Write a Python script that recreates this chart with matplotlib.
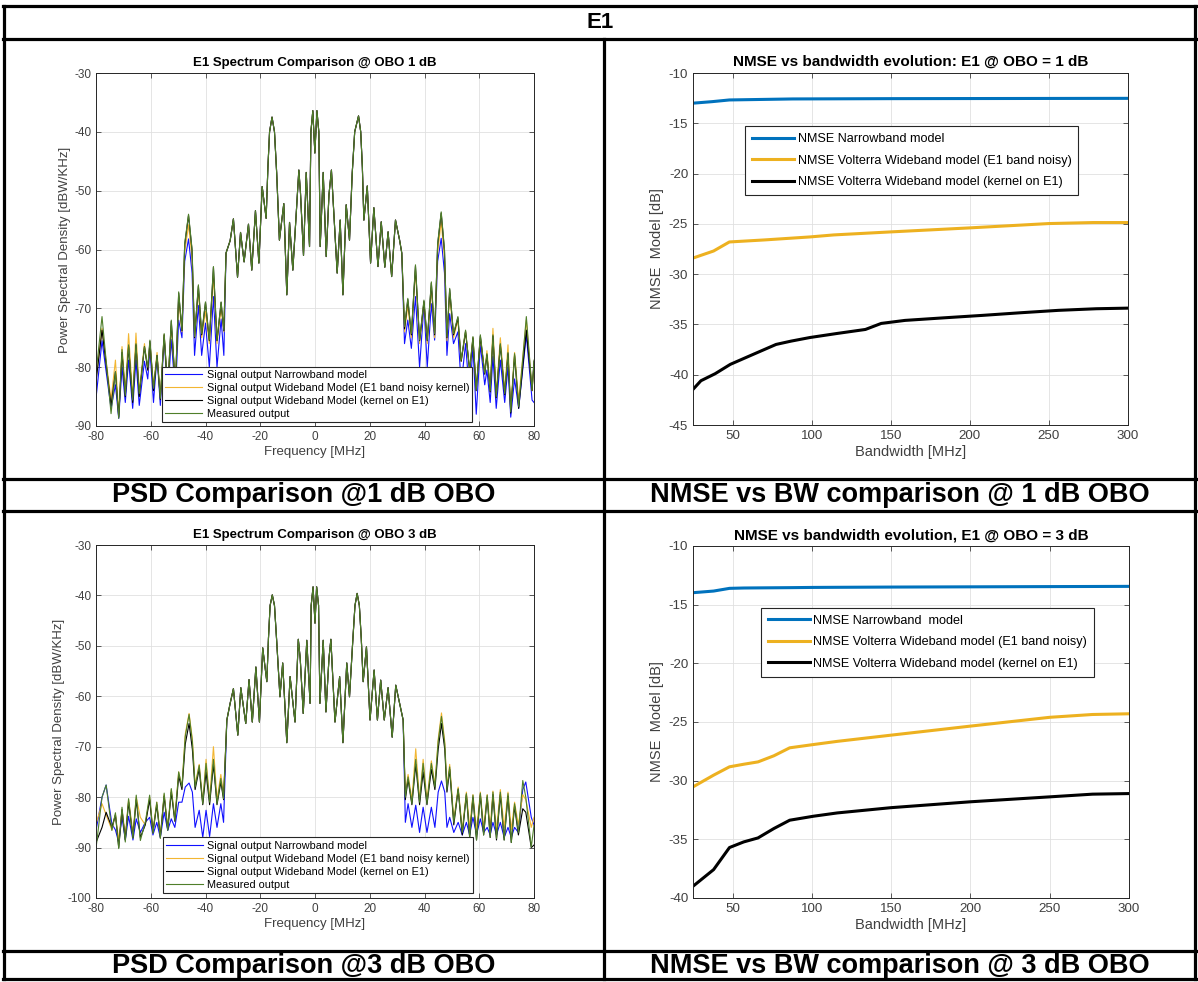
import matplotlib
matplotlib.use('Agg')
import matplotlib.pyplot as plt
from matplotlib.lines import Line2D

plt.rcParams['font.family'] = ['Liberation Sans', 'DejaVu Sans']
plt.rcParams['axes.unicode_minus'] = False

W, H = 1198, 982

# ---------------- NMSE vs bandwidth data ----------------
bw1_nb = [25, 37, 48, 88, 150, 200, 300]
nmse1_nb = [-13.0, -12.85, -12.68, -12.58, -12.55, -12.54, -12.52]
bw1_noisy = [25, 38, 48, 70, 99, 114, 150, 200, 250, 278, 300]
nmse1_noisy = [-28.4, -27.7, -26.8, -26.6, -26.3, -26.1, -25.8, -25.4, -24.97, -24.87, -24.87]
bw1_kernel = [25, 30, 39, 48.6, 63, 77.5, 87, 99, 116, 134, 144, 159, 184, 208, 232, 256, 280, 300]
nmse1_kernel = [-41.46, -40.6, -39.9, -38.97, -37.98, -36.99, -36.66, -36.3, -35.9, -35.5,
                -34.9, -34.6, -34.34, -34.1, -33.84, -33.6, -33.44, -33.38]

bw2 = [25, 38, 48, 57, 66, 76, 86, 101, 116, 150, 200, 250, 277, 300]
nmse2_nb = [-13.98, -13.84, -13.61, -13.58, -13.57, -13.56, -13.55, -13.53, -13.52, -13.5,
            -13.48, -13.46, -13.45, -13.44]
nmse2_noisy = [-30.53, -29.53, -28.82, -28.6, -28.4, -27.88, -27.2, -26.92, -26.65, -26.12,
               -25.35, -24.6, -24.36, -24.3]
nmse2_kernel = [-39.0, -37.58, -35.7, -35.22, -34.88, -34.08, -33.37, -33.03, -32.75, -32.3,
                -31.8, -31.38, -31.15, -31.1]

# ---------------- PSD @ OBO 1 dB ----------------
psd1_f_center = [-32.5, -31.0, -29.8, -28.3, -27.2, -25.9, -24.3, -23.1, -21.75, -20.5, -19.3,
                 -17.85, -17.2, -16.6, -15.7, -14.8, -14.0, -13.0, -11.4, -10.3, -9.3, -8.1,
                 -5.9, -5.3, -4.2, -3.2, -2.0, -1.5, -0.8, -0.05, 0.7, 1.4, 1.9, 3.0, 4.1, 5.1,
                 6.0, 8.1, 9.2, 10.2, 11.4, 12.6, 13.6, 14.5, 15.9, 16.7, 17.3, 17.85, 19.1,
                 20.3, 21.5, 23.0, 24.2, 25.5, 26.7, 28.0, 29.4, 30.9, 31.7]
psd1_center = [-60.6, -58.5, -54.8, -64.7, -57.1, -62.1, -55.7, -63.5, -53.4, -62.3, -49.3,
               -54.7, -46, -40, -37.5, -40, -47, -58.4, -52.2, -67.7, -55.4, -63.5,
               -46.5, -50.4, -61, -46.9, -59.5, -40, -36.4, -43.6, -36.4, -40, -59.5, -46.9,
               -61.2, -50.7, -46.5, -64, -55, -67.7, -52.4, -58.4, -47, -40, -37.3, -40, -46,
               -55, -49.2, -62.3, -52.9, -62.9, -55.3, -63, -57, -64.6, -55, -58.4, -60.6]

psd1_f_left = [-80, -77.8, -74.5, -72.9, -71.7, -70.5, -69.3, -68.1, -66.6, -65.4, -64.2, -62.3,
               -61.1, -60.3, -59.0, -57.7, -56.5, -55.1, -53.8, -52.5, -51.0, -49.8, -48.6,
               -47.6, -46.2, -44.9, -44.0, -42.6, -41.4, -40.0, -38.6, -37.1, -35.8, -34.3, -33.3]
psd1_meas_left = [-81, -71.4, -87.9, -80.8, -88.7, -77, -84.8, -76.2, -85.6, -76, -84.5, -76.5,
                  -80, -75.4, -83.6, -78, -85.3, -74.3, -83.9, -72, -83.3, -67.2, -73.7,
                  -59, -54, -60, -74.8, -66, -74.3, -68.9, -75.4, -62.9, -75.4, -68.9, -73.7]
psd1_noisy_left = [-82, -73.4, -85.5, -78.8, -88, -76.5, -84, -74.3, -85, -74.2, -84, -76,
                   -80.5, -76, -83, -77.5, -85, -74.5, -83.5, -73, -83, -68.5, -74,
                   -60.5, -55.8, -61.5, -75, -67, -75, -70.5, -76, -64.5, -76, -70, -74]
psd1_kernel_left = [-82.5, -73.7, -86.5, -80.8, -88.5, -77.5, -85, -76.5, -86, -76.2, -85, -76.5,
                    -80.5, -75.6, -84, -78, -85.5, -74.5, -84, -72.2, -83.5, -67.4, -73.8,
                    -59.2, -54.2, -60.2, -75, -66.2, -74.5, -69, -75.5, -63, -75.5, -69, -73.8]
psd1_nb_left = [-85.3, -75.5, -87, -83, -88.7, -80, -86, -78.8, -87, -78.8, -86.5, -79,
                -82, -77, -86, -78, -86.5, -75, -85, -75.3, -84.5, -72, -75,
                -62, -58.2, -64, -78, -69.5, -78, -72.5, -80, -68, -80, -71.8, -78]

psd1_f_right = [32.7, 33.9, 35.2, 36.7, 38.2, 39.8, 41.0, 42.5, 43.7, 44.8, 46.1, 47.3, 48.2,
                49.2, 50.6, 52.2, 53.4, 55.0, 56.5, 57.7, 58.9, 60.4, 62.0, 62.8, 64.0, 65.0,
                66.2, 67.7, 69.3, 70.5, 71.5, 72.9, 74.4, 77.2, 79.3, 80]
psd1_meas_right = [-73.1, -68.3, -74.3, -62.6, -75.4, -68.6, -75.4, -65.5, -74.3, -59, -53.6,
                   -60, -74.8, -66.6, -74.3, -71.4, -78.8, -73.7, -80.5, -74.8, -83.9, -74.5,
                   -81, -77.7, -84, -74.5, -85, -76, -84.5, -77.5, -87.6, -77.7, -86.7, -71.4,
                   -83.9, -78.8]
psd1_noisy_right = [-74, -69.6, -75, -63.5, -76, -69, -76, -66.5, -75, -60.5, -55.3,
                    -61.5, -75.5, -67.5, -75, -72, -79, -74, -80.5, -75, -83.5, -75,
                    -81, -77.2, -83.5, -73.4, -84.5, -75, -84, -76.2, -87, -77.5, -85.6, -72,
                    -84, -79.5]
psd1_kernel_right = [-73.5, -68.5, -74.5, -62.8, -75.5, -68.8, -75.5, -65.7, -74.5, -59.2, -53.8,
                     -60.2, -75, -66.8, -74.5, -71.6, -79, -73.9, -80.7, -75, -84, -74.7,
                     -81.2, -77.9, -84.2, -74.7, -85.2, -76.2, -84.7, -77.7, -87.8, -78, -87,
                     -73.7, -84, -79]
psd1_nb_right = [-76, -72, -76.8, -68, -80, -69.4, -80, -69.2, -75.4, -62, -58.1,
                 -64, -78, -70.9, -76, -74, -83, -76, -85, -76.5, -88, -76.2,
                 -83, -80.5, -86, -78.2, -87, -78.8, -86, -80, -88.5, -82, -87, -74.5,
                 -85.6, -86]

# ---------------- PSD @ OBO 3 dB ----------------
psd2_f_center = [-32.2, -31.0, -29.8, -28.2, -27.1, -25.3, -24.1, -22.9, -21.6, -20.3, -19.1,
                 -17.6, -17.0, -16.4, -15.6, -14.8, -14.0, -12.8, -11.8, -10.3, -9.1, -7.3,
                 -6.1, -5.4, -4.3, -3.0, -1.8, -1.4, -0.7, 0.0, 0.6, 1.3, 1.8, 3.0, 4.0, 5.1,
                 5.8, 7.3, 9.0, 10.2, 11.6, 12.6, 13.8, 14.6, 15.4, 16.2, 16.9, 17.6, 18.8,
                 20.1, 21.6, 22.8, 24.0, 25.3, 26.7, 28.2, 29.5, 30.9, 32.2]
psd2_center = [-64.7, -61.4, -58.5, -67.7, -58.3, -65.4, -56.7, -65.1, -54.2, -65.1, -50.4,
               -57.1, -48.5, -42, -39.9, -42, -49, -60.1, -53.4, -69.2, -56.1, -65.1,
               -48.7, -52.5, -63.4, -48.9, -61.4, -42, -38.3, -45.5, -38.3, -42, -61.4, -48.9,
               -63.1, -52.5, -48.7, -65.1, -56.1, -69.2, -53.4, -60.1, -49, -42, -39.6, -42,
               -48.5, -57.1, -50.2, -64.7, -54.8, -64.7, -56.8, -64.7, -58.3, -68.1, -57.8,
               -61.4, -64.7]

psd2_f_left = [-80, -77.8, -76.3, -74.2, -72.9, -71.7, -70.5, -69.3, -68.1, -66.5, -65.3, -63.8,
               -62.0, -60.4, -59.2, -57.8, -56.5, -55.1, -53.8, -52.5, -51.2, -49.8, -48.6,
               -47.4, -46.0, -44.8, -43.8, -42.3, -41.0, -39.8, -38.5, -37.1, -35.8, -34.4, -33.4]
psd2_meas_left = [-90.2, -80, -77.6, -86.6, -83.1, -90.2, -82, -88.9, -80.3, -88.2, -79.6, -88.6,
                  -85, -79.6, -87.2, -81, -88.2, -79.2, -86.6, -78.3, -84.6, -75, -78,
                  -68, -63.6, -69, -78, -73.7, -81.3, -73.3, -81, -72.5, -81.3, -76.3, -80.3]
psd2_noisy_left = [-85.3, -81.3, -83.5, -86.5, -83.5, -88.5, -82.5, -87.5, -80.5, -87, -80, -84,
                   -85.5, -80, -86.5, -81, -87.5, -79.5, -86, -78.5, -84, -75, -78,
                   -67.5, -63.4, -68.5, -77.5, -73.5, -81, -72.5, -80.5, -70, -80.5, -75.5, -79.5]
psd2_kernel_left = [-89, -86, -83, -86, -83.5, -90, -82.5, -88.5, -81, -88, -80.5, -88,
                    -85.5, -80.5, -87, -81.5, -88, -79.8, -86.5, -79, -84.8, -75.8, -78.5,
                    -69.5, -65.4, -70.5, -78.5, -74.4, -81.5, -75, -81.5, -73.5, -81.5, -77, -80.5]
psd2_nb_left = [-86.6, -80, -77.6, -85.3, -86.5, -89, -84, -88.5, -83.8, -88.5, -84.3, -87,
                -85, -84, -87.5, -85, -88, -83, -86.6, -84.3, -86, -81, -81,
                -78, -77.2, -79, -86, -82.6, -88, -82.6, -87.8, -81.3, -86, -81.3, -85]

psd2_f_right = [33.0, 34.0, 35.4, 36.8, 38.2, 39.5, 40.9, 42.5, 43.8, 45.0, 46.2, 47.4, 48.2,
                49.2, 50.7, 52.3, 53.8, 55.3, 56.5, 57.7, 59.0, 60.4, 61.6, 62.9, 64.0, 65.0,
                66.3, 67.7, 69.1, 70.5, 71.7, 72.9, 74.3, 75.9, 77.0, 79.0, 80]
psd2_meas_right = [-80, -76, -81.3, -72.5, -81, -73.3, -81.3, -73.3, -78, -69, -64, -69.5, -78.5,
                   -74, -85, -78.3, -87, -79.3, -88, -79.6, -88.5, -79.2, -87.5, -79.6, -88, -79,
                   -88.2, -79, -88.5, -79.3, -89, -81.3, -87, -76.7, -80, -89.9, -85.6]
psd2_noisy_right = [-79.5, -75.5, -80.5, -70.4, -80.5, -72.5, -80.5, -72.8, -77.5, -68.5, -63.3,
                    -69, -78, -73.5, -84.5, -78, -86.5, -79, -86, -79.5, -86.5, -79, -86, -79.5,
                    -86, -78.8, -86.5, -78.5, -86, -79, -86.5, -81, -85.5, -79.5, -80.5, -86, -84]
psd2_kernel_right = [-80.5, -76.5, -81.5, -73.5, -81.5, -75, -81.5, -74.5, -78.5, -70.5, -65.4,
                     -70.5, -79, -74.5, -85.5, -78.5, -87.5, -79.5, -88, -80, -88.5, -79.5, -87.5,
                     -80, -88, -79.5, -88.5, -79.5, -88.5, -79.8, -89, -81.8, -87.5, -82.3, -83,
                     -90, -89.5]
psd2_nb_right = [-85, -81.3, -86, -81.6, -87, -82, -87, -82, -86, -79, -76.8, -79, -86, -84,
                 -87, -85, -87.5, -85, -87.5, -84, -87.5, -84.3, -87, -86, -87.5, -85, -87.5,
                 -85, -88, -86, -88, -86, -87, -78.5, -77, -84, -85.5]

psd_labels = ['Signal output Narrowband model',
              'Signal output Wideband Model (E1 band noisy kernel)',
              'Signal output Wideband Model (kernel on E1)',
              'Measured output']
psd_colors = ['#1010ff', '#f2b632', '#000000', '#4f7f2a']

nmse_colors = ['#0072BD', '#EDB120', '#000000']
nmse1_labels = ['NMSE Narrowband model',
                'NMSE Volterra Wideband model (E1 band noisy)',
                'NMSE Volterra Wideband model (kernel on E1)']
nmse2_labels = ['NMSE Narrowband  model',
                'NMSE Volterra Wideband model (E1 band noisy)',
                'NMSE Volterra Wideband model (kernel on E1)']

fig = plt.figure(figsize=(W / 100, H / 100), dpi=100)


def px_axes(l, t, r, b):
    return fig.add_axes([l / W, 1 - b / H, (r - l) / W, (b - t) / H])


def style(ax, tick_fs):
    ax.tick_params(direction='in', top=True, right=True, labelsize=tick_fs,
                   colors='#404040', length=3.5, width=0.6)
    for s in ax.spines.values():
        s.set_color('#262626')
        s.set_linewidth(0.7)
    ax.grid(True, color='#e0e0e0', linewidth=0.6)
    ax.set_axisbelow(True)


def psd_panel(ax, f_l, f_c, f_r, center, sides, title, ylim, leg_xy):
    freq = f_l + f_c + f_r
    for (left, right), col, lab in zip(sides, psd_colors, psd_labels):
        ax.plot(freq, left + center + right, color=col, lw=0.8, label=lab)
    ax.set_xlim(-80, 80)
    ax.set_ylim(*ylim)
    ax.set_xticks(range(-80, 81, 20))
    ax.set_yticks(range(ylim[0], ylim[1] + 1, 10))
    style(ax, 8.5)
    ax.set_title(title, fontsize=9.5, fontweight='bold', pad=5)
    ax.set_xlabel('Frequency [MHz]', fontsize=9.5, color='#404040', labelpad=2)
    ax.set_ylabel('Power Spectral Density [dBW/KHz]', fontsize=9.5, color='#404040', labelpad=2)
    leg = ax.legend(loc='lower left', bbox_to_anchor=leg_xy, fontsize=7.8, handlelength=3.4,
                    labelspacing=0.28, borderpad=0.3, handletextpad=0.4, borderaxespad=0,
                    fancybox=False, framealpha=1, edgecolor='#262626')
    leg.get_frame().set_linewidth(0.8)


def nmse_panel(ax, series, labels, title, ylim, leg_xy):
    for (x, y), col, lab in zip(series, nmse_colors, labels):
        ax.plot(x, y, color=col, lw=2.2, label=lab)
    ax.set_xlim(25, 300)
    ax.set_ylim(*ylim)
    ax.set_xticks(range(50, 301, 50))
    ax.set_yticks(range(ylim[0], ylim[1] + 1, 5))
    style(ax, 9.6)
    ax.set_title(title, fontsize=11, fontweight='bold', pad=5)
    ax.set_xlabel('Bandwidth [MHz]', fontsize=10.5, color='#404040', labelpad=2)
    ax.set_ylabel('NMSE  Model [dB]', fontsize=10.5, color='#404040', labelpad=3)
    leg = ax.legend(loc='upper left', bbox_to_anchor=leg_xy, fontsize=9.1, handlelength=3.3,
                    labelspacing=0.75, borderpad=0.55, handletextpad=0.3, borderaxespad=0,
                    fancybox=False, framealpha=1, edgecolor='#262626')
    leg.get_frame().set_linewidth(0.8)


ax1 = px_axes(96, 73, 534, 426)
psd_panel(ax1, psd1_f_left, psd1_f_center, psd1_f_right, psd1_center,
          [(psd1_nb_left, psd1_nb_right), (psd1_noisy_left, psd1_noisy_right),
           (psd1_kernel_left, psd1_kernel_right), (psd1_meas_left, psd1_meas_right)],
          'E1 Spectrum Comparison @ OBO 1 dB', (-90, -30), (0.151, 0.011))

ax2 = px_axes(693, 73, 1128, 425)
nmse_panel(ax2, [(bw1_nb, nmse1_nb), (bw1_noisy, nmse1_noisy), (bw1_kernel, nmse1_kernel)],
           nmse1_labels, 'NMSE vs bandwidth evolution: E1 @ OBO = 1 dB', (-45, -10),
           (0.12, 0.849))

ax3 = px_axes(96, 545, 534, 898)
psd_panel(ax3, psd2_f_left, psd2_f_center, psd2_f_right, psd2_center,
          [(psd2_nb_left, psd2_nb_right), (psd2_noisy_left, psd2_noisy_right),
           (psd2_kernel_left, psd2_kernel_right), (psd2_meas_left, psd2_meas_right)],
          'E1 Spectrum Comparison @ OBO 3 dB', (-100, -30), (0.153, 0.014))

ax4 = px_axes(693, 546, 1129, 898)
nmse_panel(ax4, [(bw2, nmse2_nb), (bw2, nmse2_noisy), (bw2, nmse2_kernel)],
           nmse2_labels, 'NMSE vs bandwidth evolution, E1 @ OBO = 3 dB', (-40, -10),
           (0.156, 0.824))


# ---------------- table frame ----------------
def hline(y, x0=3, x1=1196):
    fig.add_artist(Line2D([x0 / W, x1 / W], [1 - y / H, 1 - y / H], transform=fig.transFigure,
                          color='black', lw=2.3, solid_capstyle='projecting'))


def vline(x, y0, y1):
    fig.add_artist(Line2D([x / W, x / W], [1 - y0 / H, 1 - y1 / H], transform=fig.transFigure,
                          color='black', lw=2.3, solid_capstyle='projecting'))


for y in [6, 39, 479, 511, 951, 979]:
    hline(y)
vline(4, 6, 979)
vline(1195, 6, 979)
vline(604, 39, 979)

fig.text(600 / W, 1 - 22 / H, 'E1', ha='center', va='center', fontsize=16, fontweight='bold')
captions = [(304, 495, 'PSD Comparison @1 dB OBO'),
            (900, 495, 'NMSE vs BW comparison @ 1 dB OBO'),
            (304, 966, 'PSD Comparison @3 dB OBO'),
            (900, 966, 'NMSE vs BW comparison @ 3 dB OBO')]
for x, y, txt in captions:
    fig.text(x / W, 1 - y / H, txt, ha='center', va='center', fontsize=19.5, fontweight='bold')

fig.savefig('out.png', dpi=100, facecolor='white')
